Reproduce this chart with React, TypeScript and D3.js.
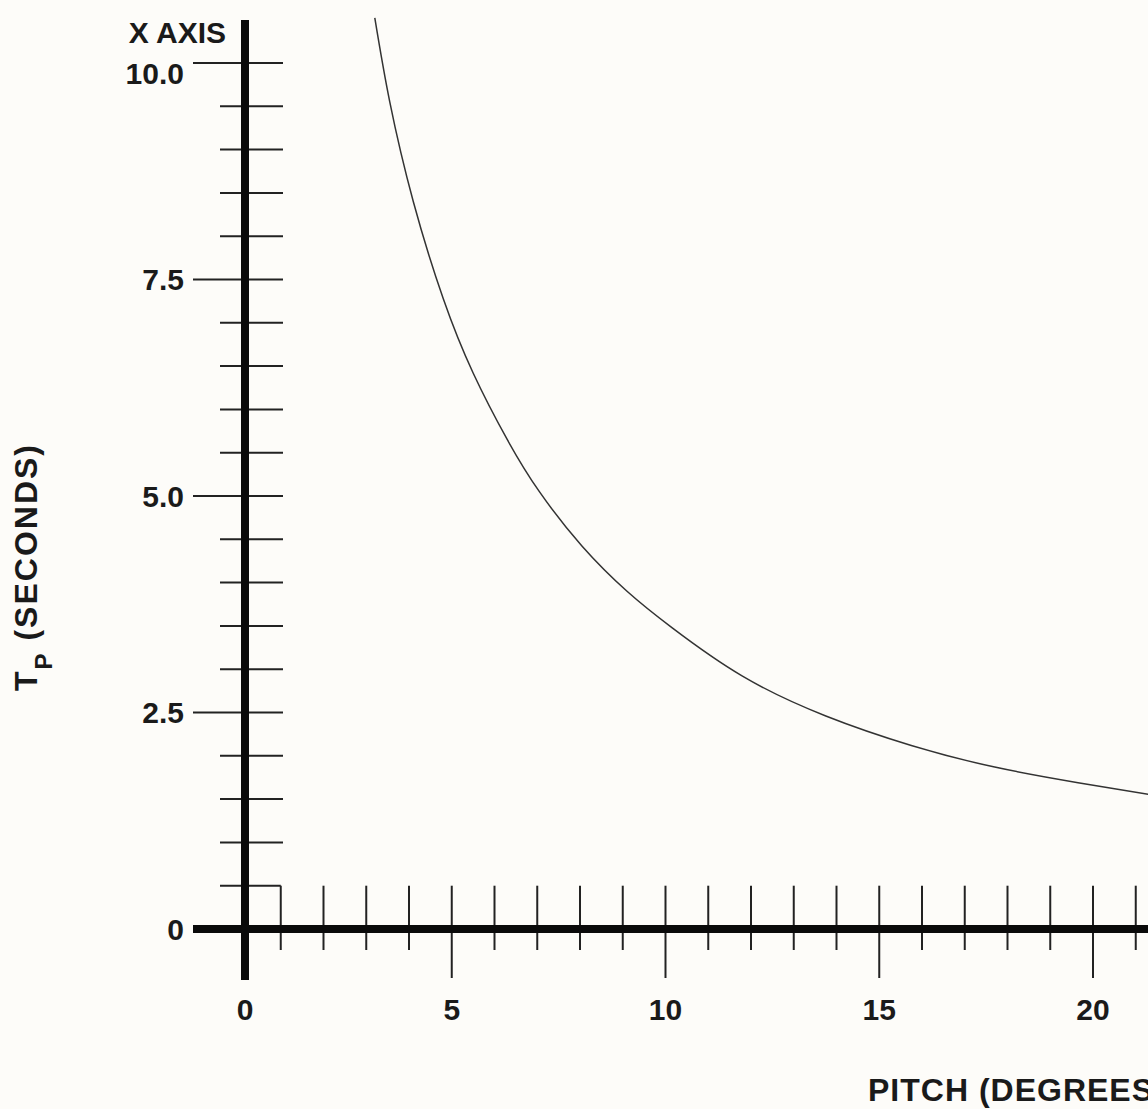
import React from "react";
import * as d3 from "d3";

// curve (pitch in degrees, Tp in seconds)
const pitch = [3.2, 3.55, 4.1, 4.8, 5.5, 6.3, 7.05, 8.05, 9.1, 10.15, 11.8, 13.75, 15.75, 17.7, 19.65, 21.35];
const tp = [10.52, 9.55, 8.4, 7.28, 6.42, 5.65, 5.05, 4.42, 3.9, 3.48, 2.92, 2.46, 2.12, 1.87, 1.69, 1.55];

const xLabels = [0, 5, 10, 15, 20];
const yLabels = [0, 2.5, 5, 7.5, 10];
const xMinorStep = 1;
const yMinorStep = 0.5;

const W = 1148;
const H = 1109;
const FONT = "'Liberation Sans', Arial, Helvetica, sans-serif";

const App = () => {
  const x = d3.scaleLinear().domain([0, 20]).range([238, 1093]);
  const y = d3.scaleLinear().domain([0, 10]).range([929, 63]);

  const axisX = x(0) + 7; // vertical bar sits a little right of the zero tick
  const axisY = y(0);

  const points = pitch.map((p, i) => [x(p), y(tp[i])] as [number, number]);
  const line = d3.line().curve(d3.curveNatural);

  const xMinor = d3.range(1, 22, xMinorStep).filter((v) => v % 5 !== 0);
  const yMinor = d3.range(0.5, 10.01, yMinorStep).filter((v) => v % 2.5 !== 0);

  return (
    <svg
      width={W}
      height={H}
      style={{ position: "absolute", left: 0, top: 0, background: "#fdfcf9" }}
      fontFamily={FONT}
      fontWeight="bold"
    >
      {/* curve */}
      <path d={line(points) || ""} fill="none" stroke="#333" strokeWidth={1.5} />

      {/* y ticks */}
      <g stroke="#222" strokeWidth={2}>
        {yMinor.map((v) => (
          <line
            key={"ym" + v}
            x1={axisX - 25}
            x2={v === 0.5 ? x(1) : axisX + 38}
            y1={y(v)}
            y2={y(v)}
          />
        ))}
        {yLabels
          .filter((v) => v > 0)
          .map((v) => (
            <line key={"yM" + v} x1={axisX - 52} x2={axisX + 38} y1={y(v)} y2={y(v)} />
          ))}
      </g>

      {/* x ticks */}
      <g stroke="#222" strokeWidth={2}>
        {xMinor.map((v) => (
          <line key={"xm" + v} x1={x(v)} x2={x(v)} y1={y(0.5)} y2={axisY + 21} />
        ))}
        {xLabels
          .filter((v) => v > 0)
          .map((v) => (
            <line key={"xM" + v} x1={x(v)} x2={x(v)} y1={y(0.5)} y2={axisY + 49} />
          ))}
      </g>

      {/* main axes */}
      <line x1={193} x2={W} y1={axisY} y2={axisY} stroke="#0a0a0a" strokeWidth={8} />
      <line x1={axisX} x2={axisX} y1={20} y2={980} stroke="#0a0a0a" strokeWidth={8} />

      {/* y labels */}
      <g fontSize={30} fill="#1a1a1a" textAnchor="end">
        {yLabels.map((v) => (
          <text key={"yl" + v} x={184} y={y(v) + (v === 10 ? 10 : 0)} dy="0.36em">
            {v === 0 ? "0" : d3.format(".1f")(v)}
          </text>
        ))}
      </g>

      {/* x labels */}
      <g fontSize={30} fill="#1a1a1a" textAnchor="middle">
        {xLabels.map((v) => (
          <text key={"xl" + v} x={v === 0 ? axisX : x(v)} y={1020}>
            {v}
          </text>
        ))}
      </g>

      <text x={226} y={43} fontSize={30} textAnchor="end" fill="#1a1a1a">
        X AXIS
      </text>

      <text x={868} y={1101} fontSize={32} letterSpacing={1} fill="#1a1a1a">
        PITCH (DEGREES)
      </text>

      <text
        transform="translate(37,567) rotate(-90)"
        textAnchor="middle"
        fontSize={32}
        letterSpacing={2}
        fill="#1a1a1a"
      >
        T
        <tspan fontSize={24} dy={15}>
          P
        </tspan>
        <tspan dy={-15}> (SECONDS)</tspan>
      </text>
    </svg>
  );
};

export default App;
